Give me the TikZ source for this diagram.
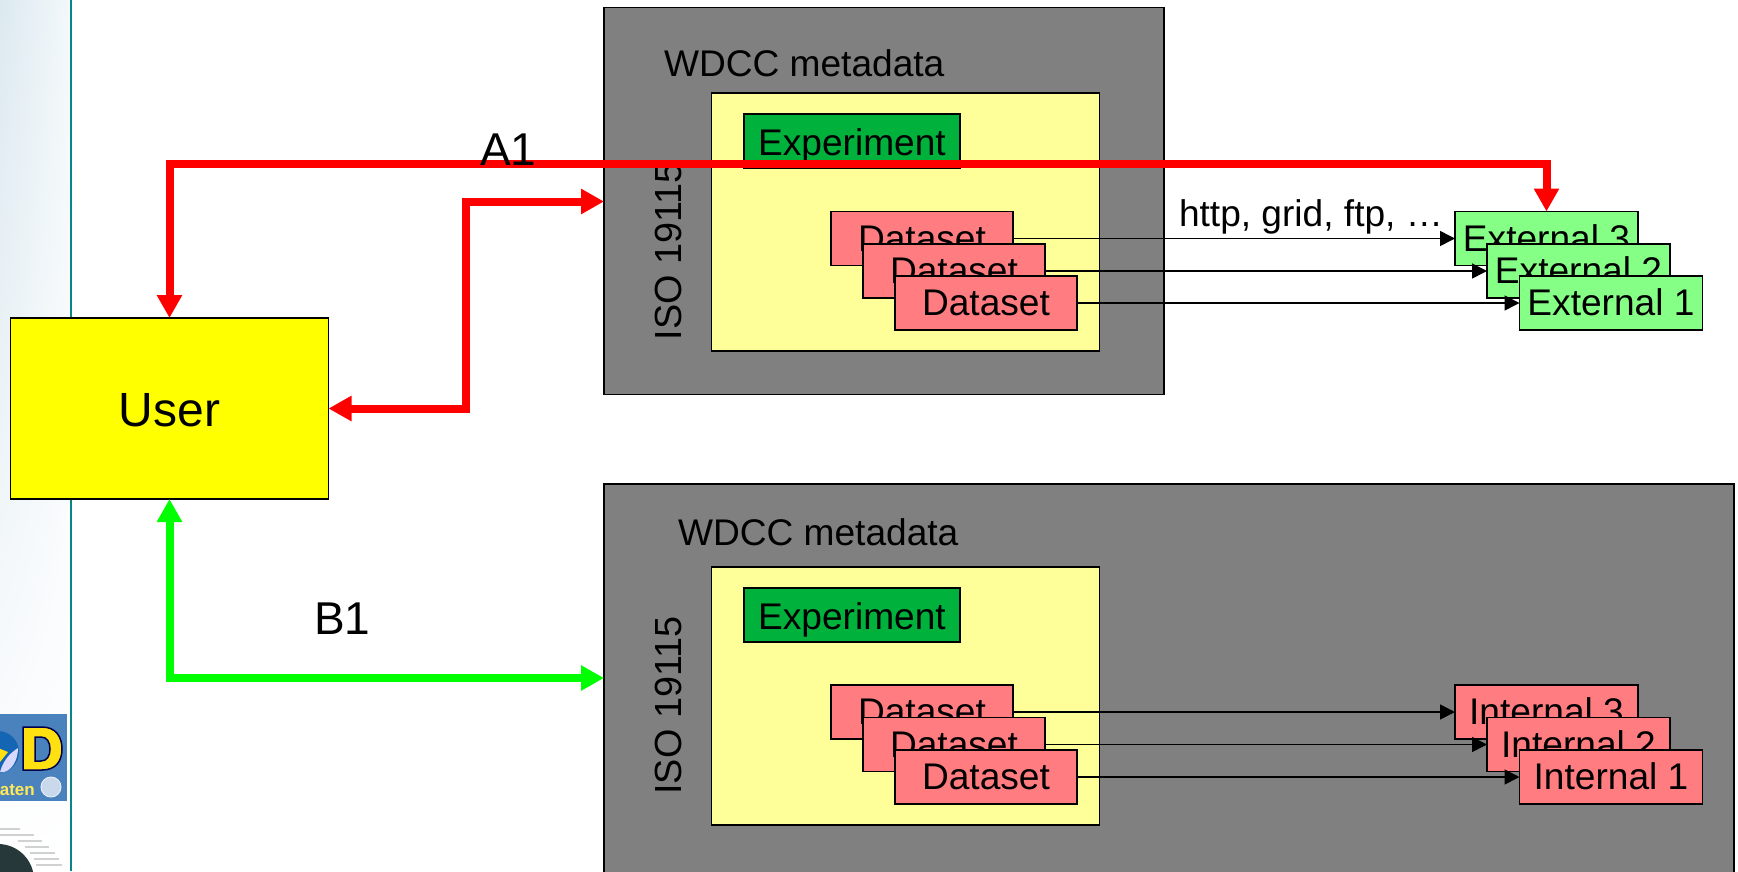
\documentclass[tikz,border=0pt]{standalone}
\usepackage{xcolor}
\usepackage{fontspec}
\setmainfont{Liberation Sans}
\usepackage{tikz}
\usetikzlibrary{arrows.meta, calc, shadings}

\definecolor{metagray}{HTML}{808080}
\definecolor{paleyellow}{HTML}{FFFF99}
\definecolor{useryellow}{HTML}{FFFF00}
\definecolor{expgreen}{HTML}{00B13C}
\definecolor{setpink}{HTML}{FF7C80}
\definecolor{extgreen}{HTML}{85FF85}
\definecolor{linkred}{HTML}{FF0000}
\definecolor{linkgreen}{HTML}{00FF00}
\definecolor{sideteal}{HTML}{0A8585}
\definecolor{logoblue}{HTML}{4A82BE}
\definecolor{logoyellow}{HTML}{FFE010}
\definecolor{globeblue}{HTML}{1565B5}
\definecolor{earthdark}{HTML}{26383A}
\definecolor{sidedark}{HTML}{DCE9F0}
\definecolor{sidelight}{HTML}{F3F8FA}

\tikzset{
    box/.style={draw=black, line width=1.8pt, inner sep=0pt, outer sep=0pt, text=black,
        font=\fontsize{37.1pt}{40pt}\selectfont, text height=25pt, text depth=0pt},
    metabox/.style={box, fill=metagray},
    inbox/.style={box, fill=paleyellow, minimum width=388pt, minimum height=258pt},
    expbox/.style={box, fill=expgreen, minimum width=216pt, minimum height=54pt, text height=28.5pt},
    setbox/.style={box, fill=setpink, minimum width=182.5pt, minimum height=54pt},
    extbox/.style={box, fill=extgreen, minimum width=183pt, minimum height=54pt},
    intbox/.style={box, fill=setpink, minimum width=183pt, minimum height=54pt},
    label/.style={inner sep=0pt, outer sep=0pt, anchor=base west,
        font=\fontsize{37.1pt}{40pt}\selectfont},
    isolabel/.style={label, rotate=90, font=\fontsize{37.8pt}{40pt}\selectfont},
    biglabel/.style={label, font=\fontsize{46pt}{50pt}\selectfont},
    streak/.style={draw=black!18, line width=1.2pt},
    link/.style={draw=black, line width=1.5pt, -{Triangle[length=15pt, width=15pt]}},
    redlink/.style={draw=linkred, line width=8pt, {Triangle[length=23pt, width=24pt]}-{Triangle[length=23pt, width=24pt]}},
    greenlink/.style={draw=linkgreen, line width=8pt, {Triangle[length=23pt, width=24pt]}-{Triangle[length=23pt, width=24pt]}}
}

\begin{document}
\begin{tikzpicture}[x=1pt, y=-1pt]
    \useasboundingbox (0, 0) rectangle (1738, 871);
    \clip (0, 0) rectangle (1738, 871);

    % side bar
    \shade[shading=bilinear interpolation, upper left=sidedark, upper right=sidelight,
        lower left=white, lower right=white] (0, 0) rectangle (70, 871);
    \draw[sideteal, line width=2pt] (71, 0) -- (71, 871);
    \fill[logoblue] (0, 714) rectangle (66.5, 800.5);
    \fill[globeblue] (-2, 752) circle (21);
    \fill[white!85!blue] (4, 772) .. controls (12, 770) and (18, 760) .. (18, 748)
        .. controls (12, 752) and (4, 758) .. (0, 772) -- cycle;
    \fill[logoyellow] (-2, 748) -- (8, 752) -- (0, 762) -- cycle;
    \filldraw[fill=logoyellow, draw=black!70!blue, line width=1.5pt, even odd rule]
        (23, 727) -- (42, 727) .. controls (56, 727) and (62, 737) .. (62, 749)
        .. controls (62, 761) and (56, 770) .. (42, 770) -- (23, 770) -- cycle
        (35, 737) -- (35, 761) -- (41, 761) .. controls (47, 761) and (50, 756) .. (50, 749)
        .. controls (50, 742) and (47, 737) .. (41, 737) -- cycle;
    \filldraw[fill=white!70!logoblue, draw=white!85!logoblue, line width=1pt] (51, 787) circle (10);
    \node[inner sep=0pt, anchor=base east, text=logoyellow!70!white,
        font=\bfseries\fontsize{17pt}{18pt}\selectfont] (logotext) at (35, 795) {aten};
    \fill[earthdark] (-2, 880) circle (36);
    \draw[streak] (0, 829) -- (20, 829);
    \draw[streak] (0, 835) -- (34, 835);
    \draw[streak] (18, 841) -- (42, 841);
    \draw[streak] (25, 847) -- (49, 847);
    \draw[streak] (30, 853) -- (55, 853);
    \draw[streak] (34, 859) -- (59, 859);
    \draw[streak] (36, 865) -- (62, 865);

    % user
    \node[box, fill=useryellow, minimum width=318pt, minimum height=181pt,
        font=\fontsize{48pt}{50pt}\selectfont, text height=35pt] (user) at (169.5, 408.5) {User};

    % upper block
    \node[metabox, minimum width=560pt, minimum height=387pt] (metaA) at (884, 201) {};
    \node[label] (titleA) at (664, 76.5) {WDCC metadata};
    \node[isolabel] (isoA) at (681.5, 340) {ISO 19115};
    \node[inbox] (innerA) at (905.5, 222) {};
    \node[expbox] (expA) at (852, 141) {Experiment};
    \node[setbox] (setA) at (922, 238.5) {Dataset};
    \node[setbox] (setB) at (954, 271) {Dataset};
    \node[setbox] (setC) at (986, 303) {Dataset};
    \node[extbox] (extC) at (1546.5, 238.5) {External 3};
    \node[extbox] (extB) at (1578.5, 271) {External 2};
    \node[extbox] (extA) at (1611, 303) {External 1};
    \draw[link] (setA) -- (extC);
    \draw[link] (setB) -- (extB);
    \draw[link] (setC) -- (extA);
    \node[label] (proto) at (1179, 226.5) {http, grid, ftp, \dots};

    % lower block
    \node[metabox, minimum width=1130pt, minimum height=406pt] (metaB) at (1169, 687) {};
    \node[label] (titleB) at (678, 545) {WDCC metadata};
    \node[isolabel] (isoB) at (681.5, 794.5) {ISO 19115};
    \node[inbox] (innerB) at (905.5, 695.7) {};
    \node[expbox] (expB) at (852, 615.3) {Experiment};
    \node[setbox] (setD) at (922, 712) {Dataset};
    \node[setbox] (setE) at (954, 744.5) {Dataset};
    \node[setbox] (setF) at (986, 777) {Dataset};
    \node[intbox] (intC) at (1546.5, 712) {Internal 3};
    \node[intbox] (intB) at (1578.5, 744.5) {Internal 2};
    \node[intbox] (intA) at (1611, 777) {Internal 1};
    \draw[link] (setD) -- (intC);
    \draw[link] (setE) -- (intB);
    \draw[link] (setF) -- (intA);

    % thick connectors
    \coordinate (bendA) at (170, 164);
    \coordinate (endA) at (604, 201.5);
    \coordinate (endB) at (604, 678);
    \draw[redlink] (user.north) -- (user.north |- bendA) -- (bendA -| extC.north) -- (extC.north);
    \draw[redlink] (user.east) -| (466, 201.5) -- (endA);
    \draw[greenlink] (user.south) |- (endB);
    \node[biglabel] (labelA) at (480, 165.7) {A1};
    \node[biglabel] (labelB) at (314, 634) {B1};
\end{tikzpicture}
\end{document}
